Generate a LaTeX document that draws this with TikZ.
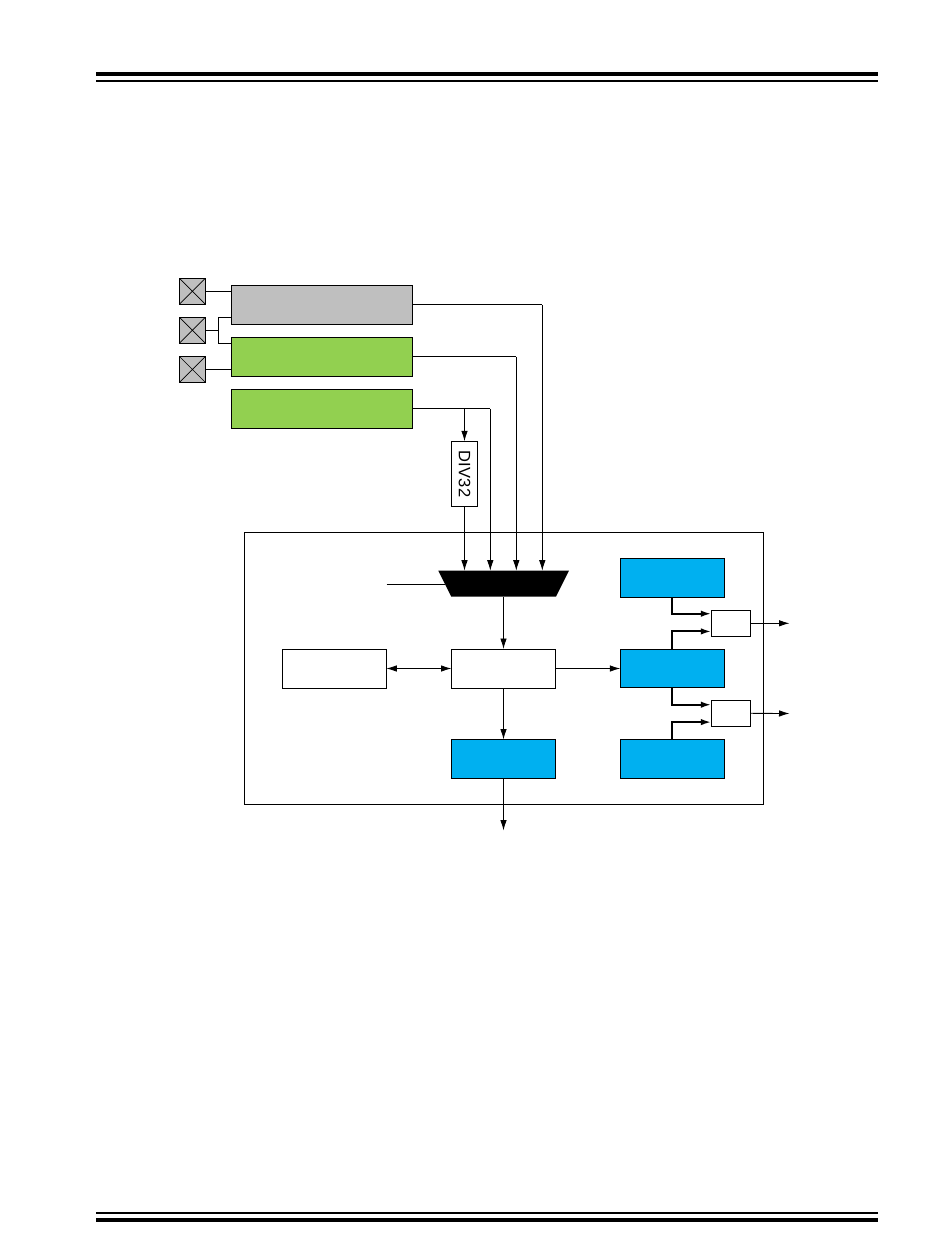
\documentclass[tikz,border=0pt]{standalone}
\usepackage{fontspec}
\setmainfont{Liberation Sans}
\usetikzlibrary{arrows.meta}
\tikzset{
  x=1pt,y=-1pt,
  wire/.style={line width=0.85pt,draw=black},
  arr/.style={wire,-{Latex[length=10.5pt,width=6.5pt]}},
  darr/.style={wire,{Latex[length=10.5pt,width=6.5pt]}-{Latex[length=10.5pt,width=6.5pt]}},
  bus/.style={line width=2pt,draw=black,-{Latex[length=10.5pt,width=6.5pt]}},
  box/.style={draw=black,line width=0.85pt,inner sep=0pt,outer sep=0pt},
  wide/.style={box,minimum width=181pt,minimum height=39pt},
  block/.style={box,minimum width=104pt,minimum height=39pt},
  small/.style={box,minimum width=39pt,minimum height=26pt},
  pad/.style={box,fill=padgray,minimum width=26pt,minimum height=26pt,
    path picture={\draw[line width=0.7pt]
      (path picture bounding box.north west)--(path picture bounding box.south east)
      (path picture bounding box.south west)--(path picture bounding box.north east);}},
  rule/.style={fill=black,draw=none,inner sep=0pt,outer sep=0pt,minimum width=782pt},
}
\definecolor{padgray}{HTML}{BFBFBF}
\definecolor{leafgreen}{HTML}{92D050}
\definecolor{skyblue}{HTML}{00B0F0}
\begin{document}
\begin{tikzpicture}
\useasboundingbox (0,0) rectangle (950,1248);
% page rules
\node[rule,minimum height=4.4pt] (r1) at (487,74.1) {};
\node[rule,minimum height=2pt] (r2) at (487,81) {};
\node[rule,minimum height=2pt] (r3) at (487,1213) {};
\node[rule,minimum height=4pt] (r4) at (487,1220) {};
% enclosure
\node[box,minimum width=519pt,minimum height=271.5pt] (main) at (504,668.6) {};
% pads
\node[pad] (p1) at (192.4,291.3) {};
\node[pad] (p2) at (192.4,330.3) {};
\node[pad] (p3) at (192.4,369.4) {};
% oscillators
\node[wide,fill=padgray] (osc1) at (321.8,304.8) {};
\node[wide,fill=leafgreen] (osc2) at (321.8,356.8) {};
\node[wide,fill=leafgreen] (osc3) at (321.8,408.8) {};
% divider
\node[box,minimum width=26pt,minimum height=65pt] (div) at (464.5,473.8) {\rotatebox{-90}{\fontsize{16.5}{16.5}\selectfont\addfontfeatures{LetterSpace=1.5}DIV32}};
% mux
\fill[black] (438.3,570.7) -- (569,570.7) -- (556,596.7) -- (451.3,596.7) -- cycle;
\coordinate (m1) at (464.5,570.7);
\coordinate (m2) at (490.3,570.7);
\coordinate (m3) at (516.3,570.7);
\coordinate (m4) at (542.3,570.7);
\coordinate (sel) at (386.7,584.3);
\coordinate (selend) at (445,584.3);
\coordinate (muxout) at (503.5,596.7);
% inner blocks
\node[block] (left) at (334.3,668.5) {};
\node[block] (ctr) at (503.5,668.5) {};
\node[block,fill=skyblue] (bot) at (503.5,759) {};
\node[block,fill=skyblue] (b1) at (672.3,577.8) {};
\node[block,fill=skyblue,minimum height=38pt] (b2) at (672.3,668.5) {};
\node[block,fill=skyblue] (b3) at (672.3,758.8) {};
\node[small] (s1) at (730.8,623.3) {};
\node[small] (s2) at (730.8,713.3) {};
% pad wires
\draw[wire] (p1.east) -- (231.3,291.3);
\draw[wire] (p3.east) -- (231.3,369.4);
\coordinate (j) at (218.4,330.3);
\draw[wire] (p2.east) -- (j);
\draw[wire] (231.3,317.4) -- (218.4,317.4) -- (218.4,343.3) -- (231.3,343.3);
% clock wires
\coordinate (t1) at (542.3,304.8);
\coordinate (t2) at (516.3,356.8);
\coordinate (t3) at (490.3,408.8);
\coordinate (t4) at (464.5,408.8);
\draw[wire] (osc1.east) -- (t1);
\draw[arr] (t1) -- (m4);
\draw[wire] (osc2.east) -- (t2);
\draw[arr] (t2) -- (m3);
\draw[wire] (osc3.east) -- (t3);
\draw[arr] (t3) -- (m2);
\draw[arr] (t4) -- (div.north);
\draw[arr] (div.south) -- (m1);
\draw[wire] (sel) -- (selend);
% block wires
\draw[arr] (muxout) -- (ctr.north);
\draw[darr] (left.east) -- (ctr.west);
\draw[arr] (ctr.east) -- (b2.west);
\draw[arr] (ctr.south) -- (bot.north);
\coordinate (out3) at (503.5,830.5);
\draw[arr] (bot.south) -- (out3);
% thick buses
\draw[bus] (b1.south) |- (711.3,613.7);
\draw[bus] (b2.north) |- (711.3,631.4);
\draw[bus] (b2.south) |- (711.3,704.7);
\draw[bus] (b3.north) |- (711.3,722.1);
% outputs
\coordinate (o1) at (789.5,623.3);
\coordinate (o2) at (789.5,713.5);
\draw[arr] (s1.east) -- (o1);
\draw[arr] (s2.east) -- (o2);
\end{tikzpicture}
\end{document}
